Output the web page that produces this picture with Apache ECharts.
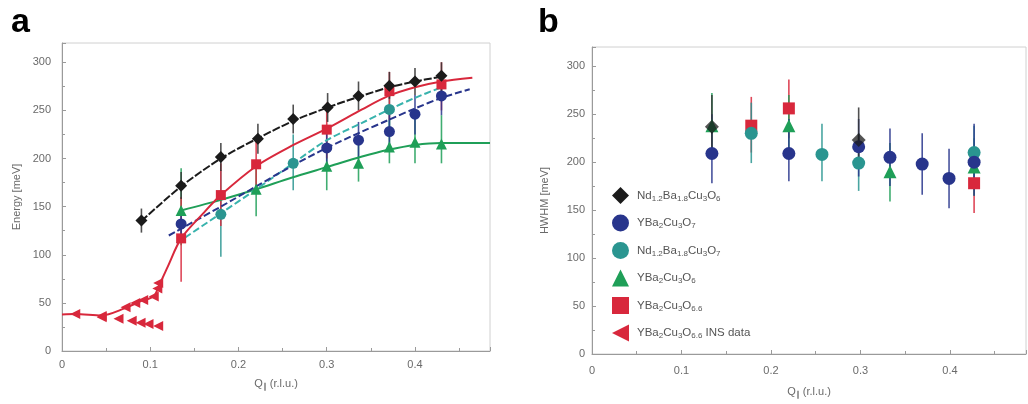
<!DOCTYPE html>
<html>
<head>
<meta charset="utf-8">
<script src="https://cdn.jsdelivr.net/npm/echarts@6/dist/echarts.min.js"></script>
<style>
html,body{margin:0;padding:0;background:#fff;}
#chart{width:1028px;height:404px;}
</style>
</head>
<body>
<div id="chart"></div>
<script>
// ---------- DATA (panel a: energy dispersion, rows = [Q, E, errLow, errHigh]) ----------
const aNdO6 = [[0.09,135.5,123,148],[0.135,171.6,158,186],[0.18,201.5,187,216],[0.222,220.5,205,236],[0.262,241,226,256],[0.301,253,238,268],[0.336,265,250,280],[0.371,275.7,262,290],[0.4,280,266,294],[0.43,286,268,300]];
const aYO7 = [[0.135,132,118,146],[0.3,211,190,232],[0.336,219,200,238],[0.371,228,208,248],[0.4,246,225,266],[0.43,265,245,285]];
const aNdO7 = [[0.18,142,98,188],[0.262,195,167,225],[0.371,251,225,275]];
const aYO6 = [[0.135,146,110,190],[0.22,168,140,196],[0.3,192,167,218],[0.336,195,176,222],[0.371,212,195,240],[0.4,217,195,245],[0.43,215,195,245]];
const aYO66 = [[0.135,117,72,160],[0.18,162,130,195],[0.22,194,165,222],[0.3,230,200,258],[0.371,270,240,290],[0.43,277,250,300]];
const insUpper = [[0.015,38.5],[0.045,36.4],[0.072,45.5],[0.083,50],[0.092,53],[0.104,56.5],[0.108,65],[0.109,70.7]];
const insLower = [[0.045,35],[0.064,33.6],[0.079,31.5],[0.089,29.4],[0.098,28],[0.109,26]];
// fitted curves
const fitBlack = [[0.09,135],[0.135,171],[0.18,200],[0.222,221],[0.262,239],[0.301,253],[0.336,264],[0.371,274],[0.4,280],[0.43,285]];
const fitRed = [[0.0,38],[0.015,38.5],[0.045,37],[0.07,44],[0.09,52],[0.104,57],[0.11,68],[0.12,88],[0.135,117],[0.16,143],[0.18,162],[0.22,192],[0.26,213],[0.3,231],[0.34,251],[0.37,265],[0.4,274],[0.43,280],[0.465,284]];
const fitNavy = [[0.121,120],[0.18,150],[0.22,171],[0.26,192],[0.3,211],[0.34,228],[0.37,240],[0.4,252],[0.43,263],[0.462,272]];
const fitTeal = [[0.13,112],[0.18,143],[0.22,168],[0.262,195],[0.3,219],[0.34,237],[0.371,251],[0.4,263],[0.43,274]];
const fitGreen = [[0.135,146],[0.18,157],[0.22,168],[0.26,180],[0.3,191],[0.34,202],[0.37,209],[0.4,214],[0.43,216],[0.485,216]];
// ---------- DATA (panel b: HWHM, rows = [Q, HWHM, errLow, errHigh]) ----------
const bNdO6 = [[0.134,237,205,270],[0.298,223,195,257]];
const bYO7 = [[0.134,209,178,250],[0.22,209,180,245],[0.298,216,185,245],[0.333,205,175,235],[0.369,198,166,230],[0.399,183,152,214],[0.427,200,165,240]];
const bNdO7 = [[0.178,230,199,262],[0.257,208,180,240],[0.298,199,170,230],[0.427,210,180,238]];
const bYO6 = [[0.134,238,210,272],[0.22,238,205,270],[0.333,190,159,220],[0.427,195,165,225]];
const bYO66 = [[0.178,238,210,268],[0.22,256,225,286],[0.427,178,147,208]];
// ---------- labels ----------
const legendNames = ['Nd1.2Ba1.8Cu3O6','YBa2Cu3O7','Nd1.2Ba1.8Cu3O7','YBa2Cu3O6','YBa2Cu3O6.6','YBa2Cu3O6.6 INS data'];
const legendRich = {
  'Nd1.2Ba1.8Cu3O6':'Nd{s|1.2}Ba{s|1.8}Cu{s|3}O{s|6}',
  'YBa2Cu3O7':'YBa{s|2}Cu{s|3}O{s|7}',
  'Nd1.2Ba1.8Cu3O7':'Nd{s|1.2}Ba{s|1.8}Cu{s|3}O{s|7}',
  'YBa2Cu3O6':'YBa{s|2}Cu{s|3}O{s|6}',
  'YBa2Cu3O6.6':'YBa{s|2}Cu{s|3}O{s|6.6}',
  'YBa2Cu3O6.6 INS data':'YBa{s|2}Cu{s|3}O{s|6.6} INS data'
};
const xTicks = [0,0.1,0.2,0.3,0.4];

const C = {black:'#1b1b1b', navy:'#28358c', teal:'#2a9590', green:'#1f9f58', red:'#d8283c'};
const FONT = '"Liberation Sans", Arial, sans-serif';
const leftTri = 'path://M0,5 L10,0 L10,10 Z';

const chart = echarts.init(document.getElementById('chart'), null, {renderer:'canvas'});

function errRender(params, api){
  const x = api.value(0), lo = api.value(2), hi = api.value(3);
  const p1 = api.coord([x, lo]), p2 = api.coord([x, hi]);
  return {type:'line', shape:{x1:p1[0], y1:p1[1], x2:p2[0], y2:p2[1]},
          style:{stroke: api.visual('color'), lineWidth:1.6, opacity:0.85}};
}
function errSeries(data, color, gi){
  return {type:'custom', xAxisIndex:gi, yAxisIndex:gi, renderItem:errRender, data:data,
          itemStyle:{color:color}, encode:{x:0, y:[2,3]}, silent:true, z:2};
}
function pts(name, data, color, symbol, size, gi, extra){
  return Object.assign({type:'scatter', name:name, xAxisIndex:gi, yAxisIndex:gi, data:data.map(r=>[r[0],r[1]]),
          symbol:symbol, symbolSize:size, itemStyle:{color:color, opacity:1}, z:5}, extra||{});
}
function fit(data, color, type, gi){
  return {type:'line', name:'fit', xAxisIndex:gi, yAxisIndex:gi, data:data, smooth:0.3, showSymbol:false,
          symbol:'none', lineStyle:{color:color, width:2, type:type}, z:3, silent:true};
}

const axisCommon = {
  axisLine:{show:true, lineStyle:{color:'#9a9a9a', width:1}},
  axisTick:{show:true, inside:true, length:4, lineStyle:{color:'#9a9a9a'}},
  axisLabel:{color:'#6a6a6a', fontSize:11, fontFamily:FONT, showMaxLabel:false},
  splitLine:{show:false},
  nameTextStyle:{color:'#6a6a6a', fontSize:11, fontFamily:FONT, rich:{s:{fontSize:8, color:'#6a6a6a', padding:[6,0,0,0]}}}
};
function xAx(gi, gap, margin){
  return Object.assign({}, axisCommon, {type:'value', gridIndex:gi, min:0, max:0.485, interval:0.1,
    minorTick:{show:true, splitNumber:2, length:3, lineStyle:{color:'#9a9a9a'}},
    name:'Q{s|∥} (r.l.u.)', nameLocation:'middle', nameGap:gap,
    axisLabel:Object.assign({}, axisCommon.axisLabel, {margin:margin, formatter:v=> (xTicks.indexOf(+v.toFixed(2))>=0 ? String(+v.toFixed(2)) : '')})});
}
function yAx(gi, name, gap, margin){
  return Object.assign({}, axisCommon, {type:'value', gridIndex:gi, min:0, max:320, interval:50,
    minorTick:{show:true, splitNumber:2, length:3, lineStyle:{color:'#9a9a9a'}},
    name:name, nameLocation:'middle', nameGap:gap, nameRotate:90,
    axisLabel:Object.assign({}, axisCommon.axisLabel, {margin:margin})});
}

const option = {
  animation:false,
  backgroundColor:'#fff',
  title:[
    {text:'a', left:6, top:1, textStyle:{fontSize:34, fontWeight:'bold', color:'#000', fontFamily:FONT}},
    {text:'b', left:533, top:1, textStyle:{fontSize:34, fontWeight:'bold', color:'#000', fontFamily:FONT}}
  ],
  grid:[
    {left:62, top:43, width:428, height:308, show:true, borderColor:'#d0d0d0', borderWidth:1},
    {left:592, top:47, width:434, height:310, show:true, borderColor:'#d0d0d0', borderWidth:1}
  ],
  xAxis:[xAx(0,26,8), xAx(1,31,11)],
  yAxis:[yAx(0,'Energy [meV]',40,11), yAx(1,'HWHM [meV]',42,7)],
  legend:{
    data:legendNames, orient:'vertical', left:607, top:182, itemWidth:17, itemHeight:17, itemGap:10.5,
    selectedMode:false,
    formatter:n=>legendRich[n],
    textStyle:{color:'#555', fontSize:11.5, fontFamily:FONT, padding:[0,0,0,3], rich:{s:{fontSize:8, color:'#555', padding:[6,0,0,0]}}}
  },
  series:[
    // panel a: fits
    fit(fitGreen, C.green, 'solid', 0),
    fit(fitTeal, '#38b3ad', [7,3], 0),
    fit(fitNavy, C.navy, [7,3], 0),
    fit(fitRed, C.red, 'solid', 0),
    fit(fitBlack, C.black, [8,2], 0),
    // panel a: error bars
    errSeries(aYO6, C.green, 0),
    errSeries(aNdO7, C.teal, 0),
    errSeries(aYO66, C.red, 0),
    errSeries(aYO7, C.navy, 0),
    errSeries(aNdO6, '#333', 0),
    // panel a: points
    pts('YBa2Cu3O6', aYO6, C.green, 'triangle', 11, 0),
    pts('Nd1.2Ba1.8Cu3O7', aNdO7, C.teal, 'circle', 11, 0),
    pts('YBa2Cu3O7', aYO7, C.navy, 'circle', 11, 0),
    pts('YBa2Cu3O6.6', aYO66, C.red, 'rect', 10, 0),
    pts('Nd1.2Ba1.8Cu3O6', aNdO6, C.black, 'diamond', 12, 0),
    pts('YBa2Cu3O6.6 INS data', insUpper, C.red, leftTri, 10, 0),
    pts('YBa2Cu3O6.6 INS data', insLower, C.red, leftTri, 10, 0),
    // panel b: error bars
    errSeries(bYO66, C.red, 1),
    errSeries(bYO6, C.green, 1),
    errSeries(bNdO7, C.teal, 1),
    errSeries(bYO7, C.navy, 1),
    errSeries(bNdO6, '#333', 1),
    // panel b: points
    pts('YBa2Cu3O6.6', bYO66, C.red, 'rect', 12, 1),
    pts('YBa2Cu3O6', bYO6, C.green, 'triangle', 13, 1),
    pts('Nd1.2Ba1.8Cu3O7', bNdO7, C.teal, 'circle', 13, 1),
    pts('YBa2Cu3O7', bYO7, C.navy, 'circle', 13, 1),
    pts('Nd1.2Ba1.8Cu3O6', bNdO6, C.black, 'diamond', 14, 1, {itemStyle:{color:C.black, opacity:0.75}})
  ]
};
chart.setOption(option);
</script>
</body>
</html>
